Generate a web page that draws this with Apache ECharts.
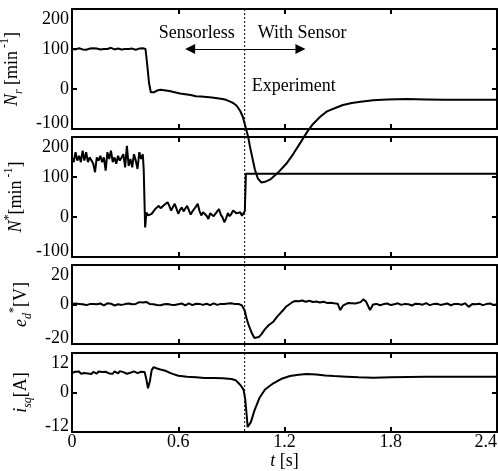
<!DOCTYPE html>
<html>
<head>
<meta charset="utf-8">
<script src="https://cdn.jsdelivr.net/npm/echarts@6/dist/echarts.min.js"></script>
<style>
  html, body { margin: 0; padding: 0; background: #fff; }
  #c { width: 498px; height: 471px; }
</style>
</head>
<body>
<div id="c"></div>
<script>
// ---- axis ticks ----
const timeTicks = [0, 0.6, 1.2, 1.8, 2.4];
const speedTicks = [-100, 0, 100, 200];
const voltTicks = [-20, 0, 20];
const currTicks = [-12, 0, 12];

// instant the speed sensor is switched in [s]
const switchTime = 0.975;

// ---- rotor speed N_r [min^-1] ----
// held speed, sampled every 10 ms from t = 0
const nrHold = [100,101,99,100,102,101,99,100,98,100,101,100,102,104,101,100,99,101,100,98,
  100,101,103,100,99,100,101,100,99,101,100,102,100,99,101,100,98,100,101,100,102,101];
const nrT = [0.415,0.425,0.435,0.445,0.455,0.465,0.48,0.50,0.52,0.55,0.58,0.61,0.64,0.67,0.70,0.73,
  0.76,0.79,0.82,0.85,0.87,0.89,0.91,0.93,0.95,0.965,0.98,0.995,1.005,1.02,1.033,1.05,1.07,1.09,1.12,1.14,
  1.17,1.21,1.25,1.29,1.33,1.36,1.40,1.44,1.49,1.53,1.58,1.63,1.70,1.78,1.89,2.0,2.1,2.2,2.3,2.4];
const nrV = [100,60,15,-8,-12,-8,-4,-2,-3,-5,-8,-11,-13,-15,-18,-19,
  -20,-21,-23,-25,-27,-31,-35,-42,-55,-70,-95,-120,-144,-175,-202,-224,-234,-232,-226,-218,
  -206,-187,-162,-134,-106,-88,-70,-56,-47,-40,-35,-32,-28,-26,-25,-26,-27,-27,-27,-27];

// ---- speed command N* [min^-1] ----
const nsHold = [149,137,162,141,153,137,166,141,162,137,149,141,133,112,149,141,153,137,149,116,
  162,145,166,137,149,133,153,141,149,157,124,178,128,145,124,157,141,120,162,145,157];
const nsDropT = [0.405, 0.413];
const nsDropV = [118, -26];
// sensorless interval, sampled every 10 ms from t = 0.42
const nsLow = [11,4,-1,8,14,20,24,28,22,19,30,26,37,27,16,25,33,21,8,18,24,14,12,28,17,6,14,20,26,33,
  15,4,12,16,3,-5,9,12,2,0,14,20,6,-1,-13,-4,10,2,8,16,20,9,5,12,3,8];
const nsStepT = [0.976, 0.982, 2.4];
const nsStepV = [15, 108, 108];

// ---- d-axis voltage command e_d* [V] ----
const edHold = [0.2,-0.4,0.5,-0.2,0.3,-0.6,0.1,0.4,-0.3,0.6,0.2,-0.5,0.3,0.8,0.1,-0.2,0.5,0.3,-0.4,0.2,
  0.6,-0.1,0.4,0.2,-0.5,0.3,0.1,0.7,-0.2,0.4,0.2,-0.3,0.5,0.9,0.1,-0.6,0.3,0.5,1.2,0.4,
  1.0,1.6,1.3,0.6,0.2,-0.3,0.1,0.4,-0.2,0.3,-0.4,0.2,0.1,-0.5,0.3,0.6,-0.1,0.2,-0.3,0.4,
  0.1,-0.2,0.5,0.2,-0.4,0.3,0.6,0.1,-0.3,0.2,0.4,-0.1,0.3,0.5,-0.2,0.1,0.4,0.2,-0.3,0.3,
  0.6,0.1,-0.2,0.4,0.3,0.7,0.2,-0.1,0.5,0.3,0.6,0.4,0.2,0.5,0.3,0.1];
const edT = [0.96,0.975,0.988,1.0,1.016,1.03,1.04,1.055,1.07,1.09,1.11,1.137,1.16,1.193,1.21,1.24,1.26,1.28,1.30,1.32,
  1.34,1.36,1.38,1.40,1.42,1.44,1.46,1.48,1.50,1.515,1.53,1.56,1.60,1.63,1.645,1.66,1.683,1.70];
const edV = [-0.5,-3,-7.8,-11,-14.6,-17,-17.6,-16.5,-15,-12.5,-10.5,-8.7,-6,-2.8,-1,0.9,1.8,1.6,2.0,1.4,
  1.9,1.3,1.5,1.0,1.4,0.8,0.9,0.6,0.4,-2.8,-0.6,0.8,0.5,1.2,2.6,1.5,-2.8,0];
// sampled every 20 ms from t = 1.72
const edTail = [0.3,-0.4,0.2,0.5,-0.3,0.1,0.6,-0.2,0.3,0.1,-0.5,0.4,0.2,-0.1,0.7,-0.3,0.2,0.4,-0.2,0.1,
  0.5,-0.4,0.3,0.2,-0.1,0.6,-1.2,0.3,0.1,0.4,-0.3,0.2,0.5,-0.2,0.1];

// ---- q-axis current i_sq [A] ----
const isHold = [6.0,5.6,6.3,5.8,6.4,5.7,6.2,5.9,6.5,5.8,6.1,5.6,6.3,6.0,5.7,6.4,5.9,6.2,5.6,6.3,
  6.6,5.8,6.1,5.7,6.4,6.0,5.8,6.5,5.9,6.2,6.6,5.7,6.3,6.0,5.8,6.4,6.1,5.9,6.5,6.3,6.0,6.2];
const isT = [0.42,0.429,0.44,0.45,0.461,0.48,0.50,0.527,0.56,0.60,0.65,0.70,0.75,0.80,0.85,0.90,0.925,0.941,0.955,0.969,
  0.978,0.985,0.992,0.998,1.01,1.03,1.06,1.09,1.137,1.18,1.231,1.28,1.325,1.38,1.43,1.48,1.55,1.62,1.70,1.80,
  1.90,2.0,2.1,2.2,2.3,2.4];
const isV = [4,1.3,3.5,6.8,7.7,7.3,7.0,6.6,5.8,5.1,4.8,4.6,4.4,4.4,4.3,4.1,3.7,2.8,2.0,0.8,
  -2,-6,-10.5,-10.8,-9,-5.5,-1.5,0.9,2.8,4.1,5.0,5.4,5.6,5.5,5.2,5.0,4.8,4.6,4.5,4.6,
  4.7,4.8,4.8,4.8,4.8,4.8];

// ---- helpers ----
const sampled = (t0, dt, vals) => vals.map((v, i) => [+(t0 + i * dt).toFixed(4), v]);
const paired = (ts, vs) => ts.map((t, i) => [t, vs[i]]);

const nrData = sampled(0, 0.01, nrHold).concat(paired(nrT, nrV));
const nsData = sampled(0, 0.01, nsHold).concat(paired(nsDropT, nsDropV), sampled(0.42, 0.01, nsLow), paired(nsStepT, nsStepV));
const edData = sampled(0, 0.01, edHold).concat(paired(edT, edV), sampled(1.72, 0.02, edTail));
const isData = sampled(0, 0.01, isHold).concat(paired(isT, isV));

const FONT = 'Liberation Serif';
const INK = '#000';

const panels = [
  { top: 9,   height: 120, ticks: speedTicks, data: nrData, clip: false,
    name: '{i|N}{sub|r} [min{sup| -1}]' },
  { top: 137, height: 120, ticks: speedTicks, data: nsData, clip: true,
    name: '{i|N}{sup|*}[min{sup| -1}]' },
  { top: 265, height: 79,  ticks: voltTicks,  data: edData, clip: true,
    name: '{i|e}{sub|d}{sup|*}[V]' },
  { top: 353, height: 79,  ticks: currTicks,  data: isData, clip: true,
    name: '{i|i}{sub|sq}[A]' }
];

const nameRich = {
  i:   { fontFamily: FONT, fontSize: 18, fontStyle: 'italic', color: INK, lineHeight: 26 },
  sub: { fontFamily: FONT, fontSize: 12, fontStyle: 'italic', color: INK, verticalAlign: 'bottom', lineHeight: 12 },
  sup: { fontFamily: FONT, fontSize: 12, color: INK, verticalAlign: 'top', lineHeight: 12 }
};

// every panel is framed by its four axis lines, ticks pointing inward
const frameLine = { show: true, onZero: false, lineStyle: { color: INK, width: 2 } };
const tickStyle = { show: true, inside: true, length: 5, lineStyle: { color: INK, width: 2 } };

const grids = [], xAxes = [], yAxes = [], series = [];

panels.forEach((p, i) => {
  const isLast = i === panels.length - 1;
  grids.push({ left: 72, right: 1, top: p.top, height: p.height,
    outerBoundsMode: 'none', containLabel: false, show: false });

  const xBase = { type: 'value', gridIndex: i,
    min: timeTicks[0], max: timeTicks[timeTicks.length - 1], interval: timeTicks[1] - timeTicks[0],
    axisLine: frameLine, splitLine: { show: false }, axisTick: tickStyle };
  xAxes.push(Object.assign({}, xBase, {
    position: 'bottom',
    axisLabel: isLast ? { show: true, margin: 1, fontFamily: FONT, fontSize: 18, color: INK, alignMaxLabel: 'right' }
                      : { show: false },
    name: isLast ? '{i|t} [s]' : '',
    nameLocation: 'middle', nameGap: 16,
    nameTextStyle: { fontFamily: FONT, fontSize: 18, color: INK, rich: nameRich }
  }));
  xAxes.push(Object.assign({}, xBase, { position: 'top', axisLabel: { show: false } }));

  const lo = p.ticks[0], hi = p.ticks[p.ticks.length - 1];
  const yBase = { type: 'value', gridIndex: i, min: lo, max: hi, interval: p.ticks[1] - p.ticks[0],
    axisLine: frameLine, splitLine: { show: false }, axisTick: tickStyle };
  yAxes.push(Object.assign({}, yBase, {
    position: 'left',
    axisLabel: {
      margin: 3, fontFamily: FONT, fontSize: 18, color: INK,
      formatter: v => v === hi ? '{hi|' + v + '}' : (v === lo ? '{lo|' + v + '}' : String(v)),
      rich: {
        hi: { fontFamily: FONT, fontSize: 18, color: INK, padding: [21, 0, 0, 0] },
        lo: { fontFamily: FONT, fontSize: 18, color: INK, padding: [0, 0, 12, 0] }
      }
    },
    name: p.name, nameLocation: 'middle', nameRotate: 90, nameGap: 22,
    nameTextStyle: { fontFamily: FONT, fontSize: 18, color: INK, rich: nameRich }
  }));
  yAxes.push(Object.assign({}, yBase, { position: 'right', axisLabel: { show: false } }));

  series.push({
    type: 'line', xAxisIndex: i * 2, yAxisIndex: i * 2, data: p.data,
    showSymbol: false, symbol: 'none', clip: p.clip, z: 3,
    lineStyle: { color: INK, width: 2 }
  });
});

// double arrow separating the two operating modes
series[0].markLine = {
  silent: true, animation: false,
  symbol: ['triangle', 'triangle'], symbolSize: 10,
  lineStyle: { color: INK, width: 1, type: 'solid' },
  itemStyle: { color: INK },
  label: { show: false },
  data: [[{ coord: [0.667, 100] }, { coord: [1.29, 100] }]]
};

const chart = echarts.init(document.getElementById('c'));
chart.setOption({
  animation: false,
  backgroundColor: '#fff',
  grid: grids, xAxis: xAxes, yAxis: yAxes, series: series
});

// dotted switching line across all panels, plus mode labels
const xs = chart.convertToPixel({ xAxisIndex: 0 }, switchTime);
const yTop = chart.convertToPixel({ yAxisIndex: 0 }, speedTicks[speedTicks.length - 1]);
const yBot = chart.convertToPixel({ yAxisIndex: 6 }, currTicks[0]);
const yMode = chart.convertToPixel({ yAxisIndex: 0 }, 140);
const yExp = chart.convertToPixel({ yAxisIndex: 0 }, 8);
const font = '18px "' + FONT + '"';
chart.setOption({
  graphic: [
    { type: 'line', z: 10, silent: true,
      shape: { x1: xs, y1: yTop, x2: xs, y2: yBot },
      style: { stroke: INK, lineWidth: 1, lineDash: [2, 2] } },
    { type: 'text', z: 10, silent: true, x: xs - 10, y: yMode,
      style: { text: 'Sensorless', font: font, fill: INK, align: 'right', verticalAlign: 'middle' } },
    { type: 'text', z: 10, silent: true, x: xs + 13, y: yMode,
      style: { text: 'With Sensor', font: font, fill: INK, align: 'left', verticalAlign: 'middle' } },
    { type: 'text', z: 10, silent: true, x: xs + 7, y: yExp,
      style: { text: 'Experiment', font: font, fill: INK, align: 'left', verticalAlign: 'middle' } }
  ]
});
</script>
</body>
</html>
